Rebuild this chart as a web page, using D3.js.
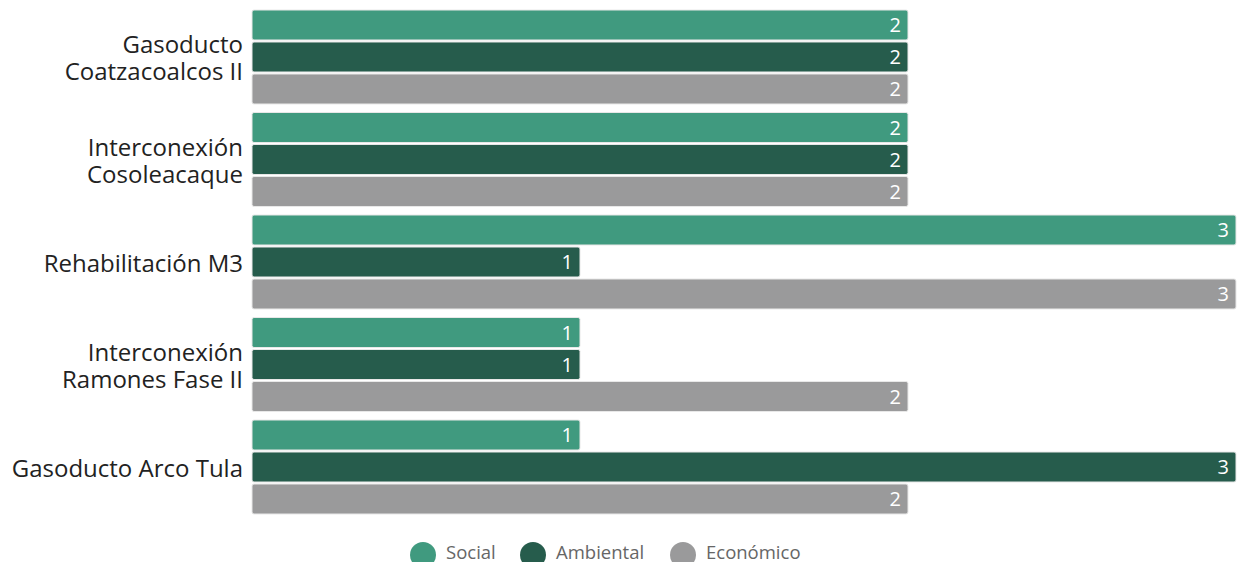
<!DOCTYPE html>
<html>
<head>
<meta charset="utf-8">
<script src="https://cdn.jsdelivr.net/npm/d3@7"></script>
<style>
  body { margin: 0; background: #fff; }
  text { font-family: "Open Sans", "Noto Sans", sans-serif; }
</style>
</head>
<body>
<svg width="1237" height="562"></svg>
<script>
// data
var projects = [
  ["Gasoducto", "Coatzacoalcos II"],
  ["Interconexión", "Cosoleacaque"],
  ["Rehabilitación M3"],
  ["Interconexión", "Ramones Fase II"],
  ["Gasoducto Arco Tula"]
];
var series = ["Social", "Ambiental", "Económico"];
var social    = [2, 2, 3, 1, 1];
var ambiental = [2, 2, 1, 1, 3];
var economico = [2, 2, 3, 2, 2];
var colors = ["#409a7f", "#265c4c", "#9a9a9b"];

var values = [social, ambiental, economico];

var svg = d3.select("svg");

var x = d3.scaleLinear().domain([0, 3]).range([252, 1236]);
var y0 = d3.scaleBand().domain(d3.range(projects.length)).range([10, 514]).paddingInner(0.083);
var y1 = d3.scaleBand().domain(series).range([0, y0.bandwidth()]).paddingInner(0.0625);

var group = svg.append("g").selectAll("g")
    .data(projects)
    .enter().append("g")
    .attr("transform", function(d, i) { return "translate(0," + y0(i) + ")"; });

group.each(function(p, i) {
  var g = d3.select(this);
  series.forEach(function(s, j) {
    var v = values[j][i];
    g.append("rect")
      .attr("x", x(0))
      .attr("y", y1(s))
      .attr("width", x(v) - x(0))
      .attr("height", y1.bandwidth())
      .attr("rx", 2)
      .attr("fill", colors[j])
      .attr("stroke", "#e8e8e8")
      .attr("stroke-width", 1);
    g.append("text")
      .attr("x", x(v) - 7)
      .attr("y", y1(s) + y1.bandwidth() / 2)
      .attr("dy", "0.36em")
      .attr("text-anchor", "end")
      .attr("fill", "#fff")
      .attr("font-size", 20)
      .text(v);
  });

  // category label
  var lbl = g.append("text")
    .attr("text-anchor", "end")
    .attr("fill", "#222")
    .attr("font-size", 24);
  var mid = y0.bandwidth() / 2 + 1;
  var n = p.length;
  p.forEach(function(line, k) {
    lbl.append("tspan")
      .attr("x", 243)
      .attr("y", mid + (k - (n - 1) / 2) * 27)
      .attr("dy", "0.36em")
      .text(line);
  });
});

// legend
var legend = svg.append("g");
var legendX = [423, 533, 683];
series.forEach(function(s, j) {
  legend.append("circle")
    .attr("cx", legendX[j])
    .attr("cy", 555)
    .attr("r", 13)
    .attr("fill", colors[j]);
  legend.append("text")
    .attr("x", legendX[j] + 23)
    .attr("y", 559)
    .attr("fill", "#666")
    .attr("font-size", 18.5)
    .text(s);
});
</script>
</body>
</html>
